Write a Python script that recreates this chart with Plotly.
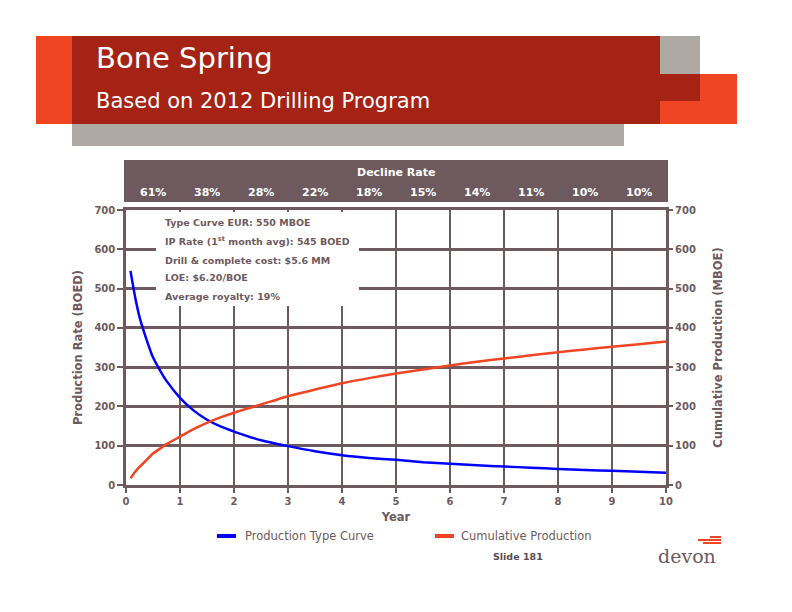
import plotly.graph_objects as go

# ---------------- data ----------------
years = [0.083, 0.167, 0.25, 0.333, 0.5, 0.667, 0.75, 1, 1.25, 1.5, 1.75, 2, 2.5, 3, 3.5,
         4, 4.5, 5, 5.5, 6, 6.5, 7, 7.5, 8, 8.5, 9, 9.5, 10]
production_rate = [545, 480, 428, 390, 325, 283, 265, 222, 190, 166, 149, 136, 114, 99, 86,
                   76, 69, 64, 58, 54, 50, 47, 44, 41, 38, 36, 34, 31]
cumulative_production = [17, 33, 46, 57, 80, 96, 104, 123, 142, 158, 172, 184, 205, 226, 243,
                         259, 272, 284, 294, 304, 314, 322, 330, 338, 345, 352, 358, 365]

decline_year = [1, 2, 3, 4, 5, 6, 7, 8, 9, 10]
decline_rate = ["61%", "38%", "28%", "22%", "18%", "15%", "14%", "11%", "10%", "10%"]

x_ticks = [0, 1, 2, 3, 4, 5, 6, 7, 8, 9, 10]
y_ticks = [0, 100, 200, 300, 400, 500, 600, 700]

info_lines = [
    "Type Curve EUR: 550 MBOE",
    "IP Rate (1<sup>st</sup> month avg): 545 BOED",
    "Drill &amp; complete cost: $5.6 MM",
    "LOE: $6.20/BOE",
    "Average royalty: 19%",
]

title_text = "Bone Spring"
subtitle_text = "Based on 2012 Drilling Program"
series_names = ["Production Type Curve", "Cumulative Production"]

# ---------------- styles ----------------
MAUVE = "#6E5A5E"
RED = "#A42314"
ORANGE = "#EF4523"
GRAY = "#AEA9A3"
BLUE = "#0000FF"
FONT = "DejaVu Sans"

W, H = 792, 612
L, R, T, B = 126, 126, 210, 127
PW, PH = W - L - R, H - T - B


def fx(px):
    return (px - L) / PW


def fy(py):
    return (H - B - py) / PH


def rect(x0, y0, x1, y1, color, layer="above"):
    return dict(type="rect", xref="paper", yref="paper",
                x0=fx(x0), x1=fx(x1), y0=fy(y1), y1=fy(y0),
                fillcolor=color, line=dict(width=0), layer=layer)


fig = go.Figure()
fig.add_trace(go.Scatter(x=years, y=production_rate, mode="lines",
                         name=series_names[0],
                         line=dict(color=BLUE, width=2.5, shape="spline", smoothing=0.6),
                         yaxis="y"))
fig.add_trace(go.Scatter(x=years, y=cumulative_production, mode="lines",
                         name=series_names[1],
                         line=dict(color=ORANGE, width=2.5, shape="spline", smoothing=0.6),
                         yaxis="y2"))

shapes = [
    # header
    rect(36, 36, 72, 124, ORANGE),
    rect(72, 36, 660, 124, RED),
    rect(660, 36, 700, 74, GRAY),
    rect(660, 74, 700, 101, RED),
    rect(660, 101, 700, 124, ORANGE),
    rect(700, 74, 737, 124, ORANGE),
    rect(72, 124, 624, 146, GRAY),
    # decline bar
    rect(124, 160, 668, 202, MAUVE),
    # info box (covers grid, sits in a trace-free region)
    rect(156, 212, 359, 306, "white"),
    # legend
    rect(217, 534, 236, 538, BLUE),
    rect(435, 534, 454, 538, ORANGE),
    # logo bars
    rect(710, 536, 721, 538, ORANGE),
    rect(698, 539, 721, 541, ORANGE),
    rect(703, 542, 721, 544, ORANGE),
]

annotations = [
    dict(text=title_text, x=fx(94), y=fy(58), xref="paper", yref="paper",
         xanchor="left", yanchor="middle", showarrow=False,
         font=dict(family=FONT, size=29, color="white")),
    dict(text=subtitle_text, x=fx(94), y=fy(101), xref="paper", yref="paper",
         xanchor="left", yanchor="middle", showarrow=False,
         font=dict(family=FONT, size=21, color="white")),
    dict(text="Decline Rate", x=fx(396), y=fy(172), xref="paper", yref="paper",
         xanchor="center", yanchor="middle", showarrow=False,
         font=dict(family=FONT, size=11, color="white", weight="bold")),
    dict(text=series_names[0], x=fx(243), y=fy(536), xref="paper", yref="paper",
         xanchor="left", yanchor="middle", showarrow=False,
         font=dict(family=FONT, size=11.5, color=MAUVE)),
    dict(text=series_names[1], x=fx(459), y=fy(536), xref="paper", yref="paper",
         xanchor="left", yanchor="middle", showarrow=False,
         font=dict(family=FONT, size=11.5, color=MAUVE)),
    dict(text="Slide 181", x=fx(517.5), y=fy(556), xref="paper", yref="paper",
         xanchor="center", yanchor="middle", showarrow=False,
         font=dict(family=FONT, size=9.5, color="#5B4B4F", weight="bold")),
    dict(text="devon", x=fx(687), y=fy(556), xref="paper", yref="paper",
         xanchor="center", yanchor="middle", showarrow=False,
         font=dict(family="DejaVu Serif", size=19, color=MAUVE)),
]

for yr, lab in zip(decline_year, decline_rate):
    annotations.append(dict(text=lab, x=yr - 0.5, y=fy(192), xref="x", yref="paper",
                            xanchor="center", yanchor="middle", showarrow=False,
                            font=dict(family=FONT, size=11, color="white", weight="bold")))

line_y = [222, 241, 260, 277.5, 296.5]
for txt, py in zip(info_lines, line_y):
    annotations.append(dict(text=txt, x=fx(163), y=fy(py), xref="paper", yref="paper",
                            xanchor="left", yanchor="middle", showarrow=False,
                            font=dict(family=FONT, size=9.5, color=MAUVE, weight="bold")))

tickfont = dict(family=FONT, size=10, color=MAUVE, weight="bold")
titlefont = dict(family=FONT, size=11.5, color=MAUVE, weight="bold")

fig.update_layout(
    template="none",
    width=W, height=H,
    margin=dict(l=L, r=R, t=T, b=B, pad=0),
    paper_bgcolor="white", plot_bgcolor="white",
    showlegend=False,
    font=dict(family=FONT, color=MAUVE),
    shapes=shapes,
    annotations=annotations,
    xaxis=dict(range=[0, 10], tickvals=x_ticks, showgrid=True, gridcolor=MAUVE, gridwidth=2,
               zeroline=False, showline=True, linecolor=MAUVE, linewidth=2.5, mirror=True,
               ticks="outside", ticklen=5, tickwidth=2, tickcolor=MAUVE, tickfont=tickfont,
               title=dict(text="Year", font=titlefont, standoff=8)),
    yaxis=dict(range=[0, 700], tickvals=y_ticks, showgrid=True, gridcolor=MAUVE, gridwidth=2.5,
               zeroline=False, showline=True, linecolor=MAUVE, linewidth=2.5, mirror=True,
               ticks="outside", ticklen=6, tickwidth=2, tickcolor=MAUVE, tickfont=tickfont,
               title=dict(text="Production Rate (BOED)", font=titlefont, standoff=10)),
    yaxis2=dict(range=[0, 700], tickvals=y_ticks, overlaying="y", side="right", showgrid=False,
                zeroline=False, showline=False,
                ticks="outside", ticklen=6, tickwidth=2, tickcolor=MAUVE, tickfont=tickfont,
                title=dict(text="Cumulative Production (MBOE)", font=titlefont, standoff=19)),
)

fig.write_html("out.html")
